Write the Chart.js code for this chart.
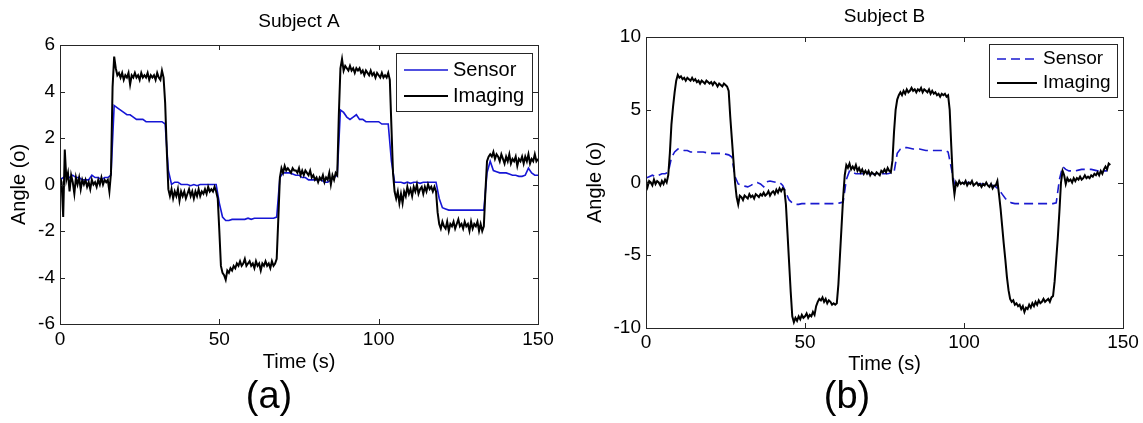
<!DOCTYPE html>
<html>
<head>
<meta charset="utf-8">
<title>Sensor vs imaging angle</title>
<script src="https://cdn.jsdelivr.net/npm/chart.js@4.4.1/dist/chart.umd.min.js"></script>
<style>
    html, body { margin: 0; padding: 0; background: #fff; }
    .panel { position: absolute; top: 0; height: 423px; }
    #panelA { left: 0; width: 571px; }
    #panelB { left: 571px; width: 572px; }
</style>
</head>
<body>
<div class="panel" id="panelA"><canvas id="subjectA"></canvas></div>
<div class="panel" id="panelB"><canvas id="subjectB"></canvas></div>
<script>
// sampling steps (seconds) of the read-off curves
const imagingStep = 0.5;
const sensorStep = 1;

const seriesNames = ['Sensor', 'Imaging'];
const xTicks = [0, 50, 100, 150];
const yTicksA = [-6, -4, -2, 0, 2, 4, 6];
const yTicksB = [-10, -5, 0, 5, 10];

// Subject A
const sensorA = [
    0.2, 0.3, 0.4, 0.3, 0.4, 0.3, 0.3, 0.2, 0.2, 0.2,
    0.4, 0.3, 0.3, 0.2, 0.3, 0.3, 0.4, 3.4, 3.3, 3.2,
    3.1, 3.0, 3.0, 2.9, 2.8, 2.8, 2.8, 2.7, 2.7, 2.7,
    2.7, 2.7, 2.7, 2.6, 0.6, 0.0, 0.1, 0.1, 0.0, 0.0,
    0.0, -0.05, 0.0, -0.05, 0.0, 0.0, 0.0, 0.0, 0.0, 0.0,
    -0.8, -1.4, -1.55, -1.55, -1.5, -1.5, -1.5, -1.5, -1.5, -1.45,
    -1.5, -1.45, -1.45, -1.45, -1.45, -1.45, -1.45, -1.45, -1.4, 0.3,
    0.5, 0.5, 0.5, 0.45, 0.4, 0.4, 0.3, 0.3, 0.2, 0.2,
    0.2, 0.2, 0.2, 0.1, 0.1, 0.2, 0.3, 0.4, 3.2, 3.1,
    2.9, 2.8, 2.9, 3.0, 2.8, 2.8, 2.7, 2.7, 2.7, 2.7,
    2.7, 2.6, 2.6, 2.6, 1.0, 0.1, 0.1, 0.1, 0.05, 0.1,
    0.05, 0.1, 0.1, 0.05, 0.1, 0.1, 0.1, 0.1, 0.1, -0.6,
    -1.0, -1.05, -1.1, -1.1, -1.1, -1.1, -1.1, -1.1, -1.1, -1.1,
    -1.1, -1.1, -1.1, -1.1, 0.5, 1.0, 0.6, 0.55, 0.5, 0.5,
    0.5, 0.45, 0.4, 0.4, 0.35, 0.35, 0.4, 0.7, 0.5, 0.4,
    0.4
];
const imagingA = [
    0.3, 0.1, -1.4, 1.5, 0.2, 0.5, -0.3, 0.4, 0.1, -0.4,
    0.3, 0.0, 0.3, -0.2, 0.2, 0.0, 0.2, -0.1, 0.1, -0.2,
    0.2, 0.0, 0.1, -0.1, 0.2, 0.0, 0.3, 0.0, 0.2, 0.1,
    0.2, -0.3, 0.5, 4.2, 5.5, 5.0, 4.7, 4.8, 4.6, 4.8,
    4.5, 4.7, 4.6, 4.8, 4.3, 4.7, 4.6, 4.8, 4.6, 4.7,
    4.5, 4.8, 4.6, 4.7, 4.6, 4.8, 4.5, 4.7, 4.6, 4.7,
    4.5, 4.8, 4.6, 4.5, 4.9, 4.6, 3.5, 1.5, -0.2, -0.5,
    -0.2, -0.6, -0.3, -0.5, -0.2, -0.7, -0.3, -0.5, -0.3, -0.6,
    -0.4, -0.2, -0.5, -0.3, -0.6, -0.3, -0.5, -0.2, -0.5, -0.3,
    -0.4, -0.2, -0.4, -0.1, -0.3, -0.2, -0.3, -0.1, -0.3, -0.6,
    -2.0, -3.5, -3.8, -3.9, -4.1, -3.7, -3.8, -3.6, -3.7, -3.5,
    -3.6, -3.4, -3.5, -3.3, -3.5, -3.4, -3.2, -3.5, -3.4, -3.3,
    -3.5, -3.4, -3.6, -3.3, -3.5, -3.4, -3.7, -3.4, -3.5, -3.3,
    -3.5, -3.4, -3.6, -3.3, -3.5, -3.4, -3.2, -1.5, 0.3, 0.7,
    0.5, 0.8, 0.6, 0.7, 0.6, 0.5, 0.7, 0.6, 0.6, 0.5,
    0.7, 0.4, 0.6, 0.4, 0.6, 0.5, 0.4, 0.6, 0.3, 0.4,
    0.2, 0.3, 0.1, 0.3, 0.2, 0.4, 0.1, 0.3, 0.2, 0.5,
    0.0, 0.4, 0.2, 0.5, 0.4, 3.0, 5.0, 5.4, 4.9, 5.1,
    5.0, 4.9, 5.1, 4.9, 5.0, 4.8, 5.0, 4.9, 5.0, 4.8,
    4.9, 4.7, 4.9, 4.8, 4.7, 4.9, 4.7, 4.8, 4.6, 4.8,
    4.7, 4.6, 4.8, 4.6, 4.7, 4.6, 4.8, 4.5, 2.5, 0.5,
    -0.3, -0.6, -0.3, -0.8, -0.4, -0.8, -0.3, -0.5, -0.1, -0.4,
    -0.2, -0.5, -0.1, -0.3, 0.0, -0.4, -0.2, -0.1, -0.4, -0.1,
    -0.3, 0.0, -0.2, -0.1, -0.3, -0.1, -0.3, -1.2, -1.7, -1.9,
    -1.6, -1.8, -1.9, -1.6, -2.0, -1.7, -1.8, -1.6, -1.9, -1.7,
    -1.5, -1.8, -1.7, -1.9, -1.6, -1.8, -1.7, -2.0, -1.6, -1.9,
    -1.7, -1.8, -1.6, -2.0, -1.7, -2.0, -1.8, -0.3, 1.0, 1.2,
    1.3, 1.2, 1.4, 1.1, 1.3, 1.2, 1.0, 1.3, 1.1, 0.9,
    1.2, 1.0, 1.3, 0.9, 1.1, 1.0, 1.2, 0.8, 1.1, 1.0,
    1.2, 0.9, 1.2, 1.0, 1.3, 0.9, 1.1, 1.0, 1.3, 1.0,
    1.1
];

// Subject B
const sensorB = [
    0.3, 0.4, 0.5, 0.4, 0.5, 0.6, 0.6, 0.7, 1.7, 2.1,
    2.3, 2.3, 2.2, 2.2, 2.1, 2.1, 2.1, 2.1, 2.1, 2.05,
    2.0, 2.0, 2.0, 2.0, 2.0, 1.95, 1.9, 1.75, 0.4, -0.1,
    -0.2, -0.25, -0.3, -0.2, -0.05, 0.0, -0.1, -0.3, 0.05, 0.1,
    0.05, 0.0, 0.0, -0.2, -0.7, -1.2, -1.4, -1.5, -1.5, -1.45,
    -1.45, -1.45, -1.45, -1.45, -1.45, -1.45, -1.45, -1.45, -1.45, -1.45,
    -1.45, -1.4, -1.35, 0.2, 0.8, 0.7, 0.6, 0.6, 0.6, 0.6,
    0.6, 0.6, 0.6, 0.6, 0.6, 0.6, 0.6, 0.65, 0.7, 2.0,
    2.3, 2.4, 2.4, 2.35, 2.3, 2.3, 2.3, 2.25, 2.2, 2.2,
    2.2, 2.2, 2.2, 2.2, 2.2, 2.1, 1.0, -0.1, -0.1, -0.1,
    0.0, 0.0, 0.0, 0.0, -0.05, -0.1, -0.1, -0.1, -0.1, -0.2,
    -0.3, -0.5, -0.8, -1.1, -1.3, -1.4, -1.45, -1.45, -1.45, -1.45,
    -1.45, -1.45, -1.45, -1.45, -1.45, -1.45, -1.45, -1.45, -1.45, -1.4,
    0.2, 1.1, 0.9, 0.8, 0.8, 0.8, 0.85, 0.9, 0.9, 0.9,
    0.9, 0.85, 0.8, 0.8, 0.8, 0.8
];
const imagingB = [
    0.2, -0.3, 0.1, 0.0, -0.2, 0.2, -0.1, 0.1, 0.0, -0.2,
    0.1, -0.1, 0.2, 0.0, 0.5, 2.0, 4.0, 5.2, 6.2, 7.0,
    7.4, 7.2, 7.3, 7.1, 7.2, 7.0, 7.2, 7.1, 7.0, 7.2,
    7.0, 7.1, 6.9, 7.0, 6.8, 7.0, 6.9, 6.8, 7.0, 6.9,
    6.8, 6.9, 6.7, 6.9, 6.8, 6.6, 6.8, 6.7, 6.6, 6.8,
    6.7, 6.6, 6.3, 4.5, 3.0, 1.5, 0.0, -1.0, -1.5, -0.9,
    -1.0, -1.2, -0.9, -1.0, -1.1, -0.8, -1.0, -0.9, -1.1, -0.8,
    -0.9, -1.0, -0.8, -0.9, -0.7, -0.9, -0.8, -0.6, -0.9, -0.7,
    -0.6, -0.8, -0.5, -0.7, -0.4, -0.6, -0.4, -0.5, -1.5, -3.5,
    -5.5, -7.5, -9.2, -9.6, -9.3, -9.5, -9.2, -9.4, -9.1, -9.3,
    -9.2, -9.0, -9.3, -9.1, -9.2, -8.9, -9.1, -8.5, -8.2, -8.0,
    -8.1, -7.9, -8.2, -8.0, -8.3, -8.1, -8.2, -8.4, -8.3, -8.4,
    -8.3, -7.0, -5.0, -3.0, -1.0, 0.5, 1.2, 1.0, 1.3, 0.9,
    1.1, 0.9, 1.2, 0.8, 1.0, 0.7, 0.9, 0.6, 0.8, 0.6,
    0.8, 0.5, 0.7, 0.6, 0.5, 0.7, 0.6, 0.5, 0.8, 0.7,
    0.9, 0.7, 1.0, 0.8, 0.7, 1.5, 3.5, 5.0, 5.7, 6.0,
    6.2, 6.0, 6.3, 6.1, 6.4, 6.2, 6.3, 6.5, 6.3, 6.4,
    6.2, 6.4, 6.3, 6.5, 6.2, 6.4, 6.3, 6.2, 6.4, 6.1,
    6.3, 6.1, 6.2, 6.0, 6.1, 5.9, 6.1, 6.0, 6.1, 5.9,
    6.0, 5.0, 2.5, 0.2, -0.8, 0.0, -0.2, 0.1, -0.1, 0.0,
    -0.1, 0.1, -0.2, 0.0, -0.1, 0.1, -0.2, -0.1, 0.0, -0.2,
    -0.1, -0.3, -0.1, -0.2, 0.0, -0.2, -0.3, -0.1, -0.4, -0.2,
    -0.2, 0.1, -0.8, -1.8, -3.0, -4.2, -5.3, -6.5, -7.4, -8.0,
    -8.2, -8.1, -8.4, -8.3, -8.5, -8.4, -8.7, -8.5, -8.9, -8.6,
    -8.7, -8.4, -8.6, -8.3, -8.5, -8.2, -8.4, -8.1, -8.3, -8.2,
    -8.0, -8.2, -8.1, -8.0, -8.2, -7.9, -7.8, -6.8, -5.3, -3.8,
    -2.0, 0.0, 0.8, 0.5, -0.1, 0.3, 0.1, 0.2, 0.0, 0.3,
    0.1, 0.3, 0.2, 0.4, 0.2, 0.3, 0.5, 0.3, 0.4, 0.3,
    0.5, 0.4, 0.6, 0.5, 0.7, 0.5, 0.8, 0.6, 0.9, 1.1,
    0.9, 1.3, 1.2
];

const fontFamily = '"Liberation Sans", Arial, Helvetica, sans-serif';
Chart.defaults.font.family = fontFamily;
Chart.defaults.color = '#000';

function points(values, step) {
    return values.map((v, i) => ({ x: i * step, y: v }));
}

// matlab style box with inward ticks on all four sides
const framePlugin = {
    id: 'frame',
    afterDatasetsDraw(chart) {
        const { ctx, chartArea: a, scales } = chart;
        const len = 5;
        ctx.save();
        ctx.strokeStyle = '#262626';
        ctx.lineWidth = 1;
        ctx.beginPath();
        scales.x.ticks.forEach(t => {
            const px = Math.round(scales.x.getPixelForValue(t.value)) + 0.5;
            ctx.moveTo(px, a.bottom); ctx.lineTo(px, a.bottom - len);
            ctx.moveTo(px, a.top); ctx.lineTo(px, a.top + len);
        });
        scales.y.ticks.forEach(t => {
            const py = Math.round(scales.y.getPixelForValue(t.value)) + 0.5;
            ctx.moveTo(a.left, py); ctx.lineTo(a.left + len, py);
            ctx.moveTo(a.right, py); ctx.lineTo(a.right - len, py);
        });
        ctx.stroke();
        ctx.strokeRect(Math.round(a.left) + 0.5, Math.round(a.top) + 0.5,
            Math.round(a.right - a.left), Math.round(a.bottom - a.top));
        ctx.restore();
    }
};

// legend drawn as a framed box inside the axes
const boxLegend = {
    id: 'boxLegend',
    afterDraw(chart, args, o) {
        const { ctx, chartArea } = chart;
        const x = Math.round(chartArea.right - o.right - o.width);
        const y = Math.round(chartArea.top + o.top);
        ctx.save();
        ctx.fillStyle = '#fff';
        ctx.fillRect(x, y, o.width, o.height);
        ctx.strokeStyle = '#262626';
        ctx.lineWidth = 1;
        ctx.strokeRect(x + 0.5, y + 0.5, o.width, o.height);
        ctx.font = o.fontSize + 'px ' + fontFamily;
        ctx.textBaseline = 'middle';
        chart.data.datasets.forEach((ds, i) => {
            const rowY = y + o.rowTop + i * o.rowGap;
            ctx.beginPath();
            ctx.setLineDash(ds.borderDash || []);
            ctx.strokeStyle = ds.borderColor;
            ctx.lineWidth = ds.borderWidth;
            ctx.moveTo(x + o.inset, rowY);
            ctx.lineTo(x + o.inset + o.sample, rowY);
            ctx.stroke();
            ctx.setLineDash([]);
            ctx.fillStyle = '#000';
            ctx.fillText(ds.label, x + o.inset + o.sample + o.gap, rowY);
        });
        ctx.restore();
    }
};

function panelOptions(p) {
    return {
        responsive: true,
        maintainAspectRatio: false,
        animation: false,
        events: [],
        layout: { padding: { left: 0, right: p.padRight, top: 0, bottom: 0 } },
        elements: { point: { radius: 0 }, line: { tension: 0 } },
        plugins: {
            legend: { display: false },
            tooltip: { enabled: false },
            subtitle: {
                display: true, position: 'bottom', text: p.tag, color: '#000',
                font: { size: 38, weight: 'normal' }, padding: { top: 0, bottom: 3 }
            },
            boxLegend: p.legend
        },
        scales: {
            x: {
                type: 'linear', min: 0, max: 150,
                afterBuildTicks: s => { s.ticks = xTicks.map(v => ({ value: v })); },
                afterFit: s => { s.height = p.xHeight; },
                grid: { display: false, drawTicks: false },
                border: { display: false },
                ticks: { font: { size: 19 }, color: '#000', padding: p.xTickPad, maxRotation: 0, autoSkip: false },
                title: {
                    display: true, text: 'Time (s)', color: '#000',
                    font: { size: 20 }, padding: { top: 0, bottom: p.xTitlePad }
                }
            },
            // top axis only carries the panel title, centred over the plot box
            top: {
                type: 'linear', position: 'top', min: 0, max: 150,
                afterFit: s => { s.height = p.topHeight; },
                grid: { display: false, drawTicks: false },
                border: { display: false },
                ticks: { display: false },
                title: {
                    display: true, text: p.title, color: '#000',
                    font: { size: 19 }, padding: { top: p.titlePad, bottom: 0 }
                }
            },
            y: {
                type: 'linear', min: p.yTicks[0], max: p.yTicks[p.yTicks.length - 1],
                afterBuildTicks: s => { s.ticks = p.yTicks.map(v => ({ value: v })); },
                afterFit: s => { s.width = p.yWidth; },
                grid: { display: false, drawTicks: false },
                border: { display: false },
                ticks: { font: { size: 19 }, color: '#000', padding: 5, autoSkip: false },
                title: {
                    display: true, text: 'Angle (o)', color: '#000',
                    font: { size: 20 }, padding: { top: p.yTitlePad, bottom: 0 }
                }
            }
        }
    };
}

let ctxA = document.getElementById("subjectA").getContext('2d');
let chartA = new Chart(ctxA, {
    type: 'line',
    data: {
        datasets: [{
            label: seriesNames[0],
            data: points(sensorA, sensorStep),
            borderColor: '#1616d6',
            borderWidth: 1.6,
            order: 1
        }, {
            label: seriesNames[1],
            data: points(imagingA, imagingStep),
            borderColor: '#000000',
            borderWidth: 2,
            order: 0
        }]
    },
    options: panelOptions({
        title: 'Subject A', tag: '(a)', yTicks: yTicksA,
        padRight: 33, yWidth: 60, yTitlePad: 7.5,
        topHeight: 45, titlePad: 10.6,
        xHeight: 50.4, xTickPad: 4.6, xTitlePad: 0,
        legend: { right: 6, top: 8, width: 136, height: 58, rowTop: 17, rowGap: 26,
                  inset: 8, sample: 44, gap: 5, fontSize: 20 }
    }),
    plugins: [framePlugin, boxLegend]
});

let ctxB = document.getElementById("subjectB").getContext('2d');
let chartB = new Chart(ctxB, {
    type: 'line',
    data: {
        datasets: [{
            label: seriesNames[0],
            data: points(sensorB, sensorStep),
            borderColor: '#1a1ad0',
            borderWidth: 1.6,
            borderDash: [9, 5],
            order: 1
        }, {
            label: seriesNames[1],
            data: points(imagingB, imagingStep),
            borderColor: '#000000',
            borderWidth: 2,
            order: 0
        }]
    },
    options: panelOptions({
        title: 'Subject B', tag: '(b)', yTicks: yTicksB,
        padRight: 20, yWidth: 75, yTitlePad: 12,
        topHeight: 37, titlePad: 5.6,
        xHeight: 46.4, xTickPad: 3.6, xTitlePad: -2,
        legend: { right: 6, top: 7, width: 128, height: 53, rowTop: 15, rowGap: 24,
                  inset: 8, sample: 40, gap: 6, fontSize: 19 }
    }),
    plugins: [framePlugin, boxLegend]
});
</script>
</body>
</html>
